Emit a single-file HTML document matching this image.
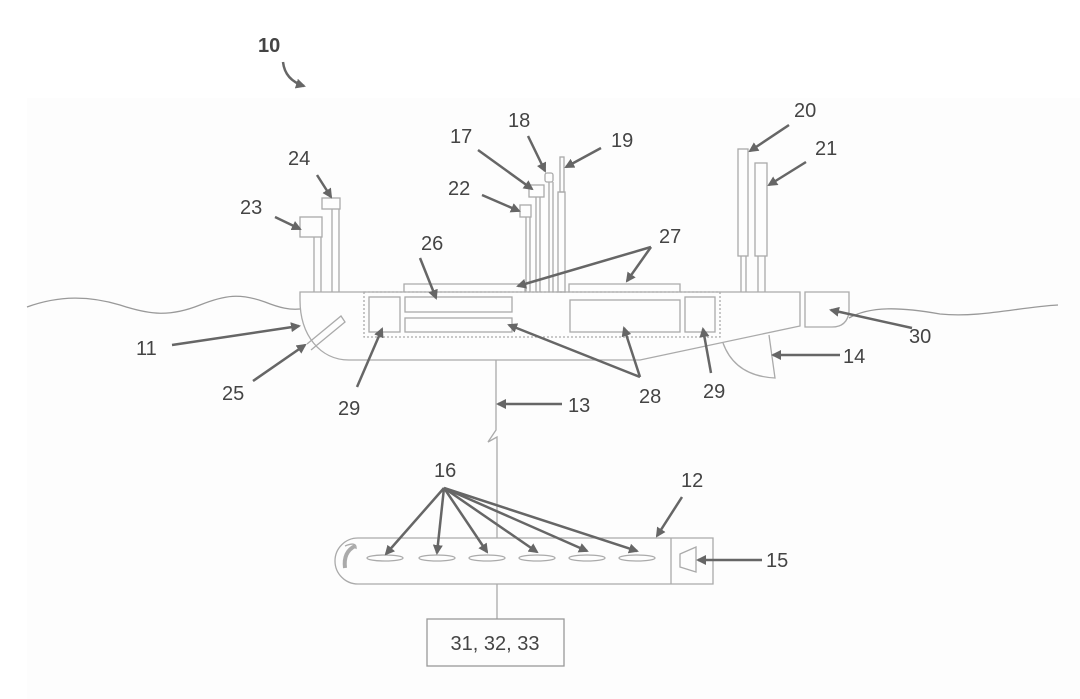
<!DOCTYPE html>
<html><head><meta charset="utf-8"><style>
html,body{margin:0;padding:0;background:#fff;}
svg{display:block;}
text{font-family:"Liberation Sans",sans-serif;font-size:20px;fill:#444;}
</style></head><body>
<svg width="1080" height="699" viewBox="0 0 1080 699" xmlns="http://www.w3.org/2000/svg">
<defs>
<marker id="a" markerWidth="10" markerHeight="10" refX="8" refY="5" orient="auto" markerUnits="userSpaceOnUse"><path d="M0,0 L10,5 L0,10 Z" fill="#666"/></marker>
</defs>
<rect x="27" y="98" width="1053" height="601" fill="#fdfdfd"/>
<g fill="none" stroke="#aaa" stroke-width="1.3">
<path d="M27,307 C60,295 90,296 120,305 C150,315 170,317 200,305 C225,295 240,293 265,302 C280,308 290,310 300,309" stroke="#999"/>
<path d="M849,318 C870,306 900,307 940,314 C980,318 1020,307 1058,305" stroke="#999"/>
<path d="M300,292 L800,292 L800,326 L640,360 L349,360 C320,360 300,335 300,300 Z"/>
<path d="M805,292 L849,292 L849,312 Q847,327 832,327 L805,327 Z"/>
<path d="M723,343 Q735,376 775,378 L769,335"/>
<rect x="364" y="292" width="356" height="45" stroke-dasharray="2,2"/>
<rect x="369" y="297" width="31" height="35"/>
<rect x="405" y="297" width="107" height="15"/>
<rect x="405" y="318" width="107" height="14"/>
<rect x="570" y="300" width="110" height="32"/>
<rect x="685" y="297" width="30" height="35"/>
<path d="M404,292 L404,284 L525,284 L525,292"/>
<path d="M569,292 L569,284 L680,284 L680,292"/>
<path d="M307,344 L341,316 L345,322 L311,350"/>
<rect x="300" y="217" width="22" height="20"/>
<path d="M314,237 L314,292 M321,237 L321,292"/>
<rect x="322" y="198" width="18" height="11"/>
<path d="M332,209 L332,292 M339,209 L339,292"/>
<rect x="520" y="205" width="11" height="12"/>
<path d="M526,217 L526,292 M530,217 L530,292"/>
<rect x="529" y="185" width="15" height="12"/>
<path d="M536,197 L536,292 M540,197 L540,292"/>
<rect x="545" y="173" width="8" height="9" rx="2"/>
<path d="M549,182 L549,292 M553,182 L553,292"/>
<rect x="560" y="157" width="4" height="35"/>
<rect x="558" y="192" width="7" height="100"/>
<rect x="738" y="149" width="10" height="107"/>
<path d="M741,256 L741,292 M746,256 L746,292"/>
<rect x="755" y="163" width="12" height="93"/>
<path d="M758,256 L758,292 M765,256 L765,292"/>
<path d="M496,360 L496,430 L488,442 L497,437 L497,538 M497,584 L497,619"/>
<path d="M358,538 L713,538 L713,584 L358,584 A23,23 0 0 1 358,538 Z"/>
<path d="M671,538 L671,584"/>
<path d="M680,554 L696,547 L696,572 L680,567 Z"/>
<path d="M355,546 Q343,552 345,568" stroke-width="4"/>
<path d="M345,546 Q357,541 356,549" />
<g>
<ellipse cx="385" cy="558" rx="18" ry="3"/>
<ellipse cx="437" cy="558" rx="18" ry="3"/>
<ellipse cx="487" cy="558" rx="18" ry="3"/>
<ellipse cx="537" cy="558" rx="18" ry="3"/>
<ellipse cx="587" cy="558" rx="18" ry="3"/>
<ellipse cx="637" cy="558" rx="18" ry="3"/>
</g>
<rect x="427" y="619" width="137" height="47" stroke="#999"/>
</g>
<g stroke="#666" stroke-width="2.5" fill="none" marker-end="url(#a)">
<path d="M283,62 Q285,80 304,86"/>
<path d="M317,175 L331,197"/>
<path d="M275,217 L300,229"/>
<path d="M482,195 L519,211"/>
<path d="M478,150 L532,189"/>
<path d="M528,136 L545,171"/>
<path d="M601,148 L566,167"/>
<path d="M789,125 L750,151"/>
<path d="M806,162 L769,185"/>
<path d="M420,258 L436,298"/>
<path d="M651,247 L518,286"/>
<path d="M651,247 L627,281"/>
<path d="M640,377 L509,325"/>
<path d="M640,377 L624,328"/>
<path d="M357,387 L382,329"/>
<path d="M711,373 L703,329"/>
<path d="M172,345 L299,326"/>
<path d="M253,381 L305,345"/>
<path d="M912,328 L831,310"/>
<path d="M840,355 L773,355"/>
<path d="M562,404 L498,404"/>
<path d="M444,488 L386,554"/>
<path d="M444,488 L437,553"/>
<path d="M444,488 L487,552"/>
<path d="M444,488 L537,552"/>
<path d="M444,488 L587,551"/>
<path d="M444,488 L637,551"/>
<path d="M682,497 L657,536"/>
<path d="M762,560 L698,560"/>
</g>
<text x="258" y="52" style="font-weight:bold">10</text>
<text x="288" y="165">24</text>
<text x="240" y="214">23</text>
<text x="448" y="195">22</text>
<text x="450" y="143">17</text>
<text x="508" y="127">18</text>
<text x="611" y="147">19</text>
<text x="794" y="117">20</text>
<text x="815" y="155">21</text>
<text x="421" y="250">26</text>
<text x="659" y="243">27</text>
<text x="639" y="403">28</text>
<text x="338" y="415">29</text>
<text x="703" y="398">29</text>
<text x="136" y="355">11</text>
<text x="222" y="400">25</text>
<text x="909" y="343">30</text>
<text x="843" y="363">14</text>
<text x="568" y="412">13</text>
<text x="434" y="477">16</text>
<text x="681" y="487">12</text>
<text x="766" y="567">15</text>
<text x="495" y="650" text-anchor="middle">31, 32, 33</text>
</svg>
</body></html>
